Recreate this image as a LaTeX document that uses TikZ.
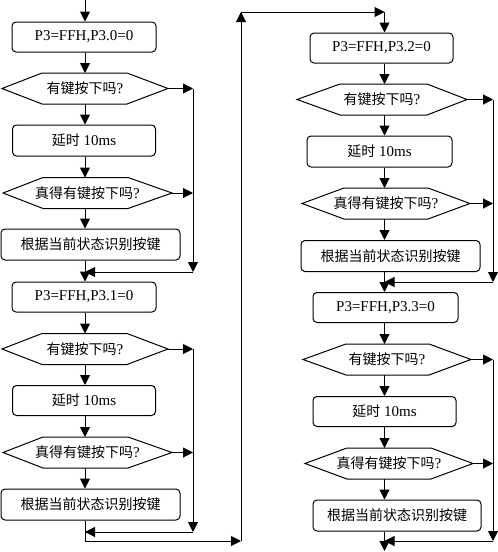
\documentclass[tikz,border=0pt]{standalone}
\usepackage{fontspec}
\setmainfont{Liberation Serif}
\newfontfamily\cjk[Scale=1.0]{Noto Sans CJK SC}
\usetikzlibrary{arrows.meta}
\newcommand\hexa[7]{% name, cx, cy, halfw, insetL, insetR, text
  \draw[line] (#2-#4,#3) -- (#2-#4+#5,#3-15.5) -- (#2+#4-#6,#3-15.5) -- (#2+#4,#3)
     -- (#2+#4-#6,#3+15.5) -- (#2-#4+#5,#3+15.5) -- cycle;
  \node[txt] (#1) at (#2,#3) {#7};
  \coordinate (#1-n) at (#2,#3-15.5);
  \coordinate (#1-s) at (#2,#3+15.5);
  \coordinate (#1-e) at (#2+#4,#3);
}
\begin{document}
\begin{tikzpicture}[x=1pt,y=-1pt,
  line/.style={line width=1pt},
  arr/.style={line width=1pt, -{Triangle[length=10pt,width=10pt]}},
  box/.style={draw, line width=1pt, rounded corners=4pt, minimum height=30pt,
              inner sep=0pt, font=\fontsize{15}{17}\selectfont},
  txt/.style={inner sep=0pt, font=\fontsize{15}{17}\selectfont}]
\useasboundingbox (0,0) rectangle (498,552);

% column and loop guides
\coordinate (colL) at (85,0);
\coordinate (colR) at (384.5,0);
\coordinate (rl) at (193,0);
\coordinate (rr) at (493,0);
\coordinate (start) at (85,0);

% ---------- left column ----------
\node[box, minimum width=144pt] (b1) at (84,37) {P3=FFH,P3.0=0};
\hexa{h1}{85}{88.5}{83}{40}{41}{{\cjk\fontsize{14}{16}\selectfont 有键按下吗}?}
\node[box, minimum width=143pt, minimum height=31pt] (b2) at (84,140.5) {{\cjk\fontsize{14}{16}\selectfont 延时} 10ms};
\hexa{h2}{87.5}{193}{84.5}{40}{44}{{\cjk\fontsize{14}{16}\selectfont 真得有键按下吗}?}
\node[box, minimum width=179pt, minimum height=31pt] (b3) at (90.5,244.5) {\cjk\fontsize{14}{16}\selectfont 根据当前状态识别按键};
\coordinate (m1) at (85,272);
\node[box, minimum width=144pt] (b4) at (84,297) {P3=FFH,P3.1=0};
\hexa{h3}{85}{349}{83}{40}{41}{{\cjk\fontsize{14}{16}\selectfont 有键按下吗}?}
\node[box, minimum width=143pt] (b5) at (84,400.5) {{\cjk\fontsize{14}{16}\selectfont 延时} 10ms};
\hexa{h4}{87.5}{452.5}{84.5}{40}{44}{{\cjk\fontsize{14}{16}\selectfont 真得有键按下吗}?}
\node[box, minimum width=179pt, minimum height=31pt] (b6) at (90.5,504.5) {\cjk\fontsize{14}{16}\selectfont 根据当前状态识别按键};
\coordinate (m2) at (85,532);
\coordinate (c1) at (85,541);
\coordinate (c2) at (241,541);
\coordinate (c3) at (241,12);
\coordinate (c4) at (384.5,12);

% ---------- right column ----------
\node[box, minimum width=143pt] (b7) at (381.5,48) {P3=FFH,P3.2=0};
\hexa{h5}{382}{99.5}{85}{43}{40}{{\cjk\fontsize{14}{16}\selectfont 有键按下吗}?}
\node[box, minimum width=145pt, minimum height=31pt] (b8) at (379.5,151.5) {{\cjk\fontsize{14}{16}\selectfont 延时} 10ms};
\hexa{h6}{386}{203.5}{84}{42}{42}{{\cjk\fontsize{14}{16}\selectfont 真得有键按下吗}?}
\node[box, minimum width=179pt, minimum height=31pt] (b9) at (390.5,256) {\cjk\fontsize{14}{16}\selectfont 根据当前状态识别按键};
\coordinate (m3) at (384.5,282);
\node[box, minimum width=145pt] (b10) at (385.5,307.5) {P3=FFH,P3.3=0};
\hexa{h7}{387}{359.5}{84}{43}{42}{{\cjk\fontsize{14}{16}\selectfont 有键按下吗}?}
\node[box, minimum width=143pt] (b11) at (384.5,411.5) {{\cjk\fontsize{14}{16}\selectfont 延时} 10ms};
\hexa{h8}{389}{463.5}{84}{42}{42}{{\cjk\fontsize{14}{16}\selectfont 真得有键按下吗}?}
\node[box, minimum width=168pt, minimum height=31pt] (b12) at (397,515.5) {\cjk\fontsize{14}{16}\selectfont 根据当前状态识别按键};
\coordinate (m4) at (384.5,541);
\coordinate (end) at (384.5,551);

% ---------- connectors: left ----------
\draw[arr] (start) -- (b1.north -| colL);
\draw[arr] (b1.south -| colL) -- (h1-n -| colL);
\draw[arr] (h1-s -| colL) -- (b2.north -| colL);
\draw[arr] (b2.south -| colL) -- (h2-n -| colL);
\draw[arr] (h2-s -| colL) -- (b3.north -| colL);
\draw[arr] (b3.south -| colL) -- (b4.north -| colL);
\draw[arr] (h1-e) -- (h1-e -| rl);
\draw[arr] (h2-e) -- (h2-e -| rl);
\draw[arr] (h1-e -| rl) -- (m1 -| rl);
\draw[arr] (m1 -| rl) -- (m1);

\draw[arr] (b4.south -| colL) -- (h3-n -| colL);
\draw[arr] (h3-s -| colL) -- (b5.north -| colL);
\draw[arr] (b5.south -| colL) -- (h4-n -| colL);
\draw[arr] (h4-s -| colL) -- (b6.north -| colL);
\draw[arr] (h3-e) -- (h3-e -| rl);
\draw[arr] (h4-e) -- (h4-e -| rl);
\draw[arr] (h3-e -| rl) -- (m2 -| rl);
\draw[arr] (m2 -| rl) -- (m2);

\draw[line] (b6.south -| colL) -- (c1);
\draw[arr] (c1) -- (c2);
\draw[arr] (c2) -- (c3);
\draw[arr] (c3) -- (c4);
\draw[arr] (c4) -- (b7.north -| colR);

% ---------- connectors: right ----------
\draw[arr] (b7.south -| colR) -- (h5-n -| colR);
\draw[arr] (h5-s -| colR) -- (b8.north -| colR);
\draw[arr] (b8.south -| colR) -- (h6-n -| colR);
\draw[arr] (h6-s -| colR) -- (b9.north -| colR);
\draw[arr] (b9.south -| colR) -- (b10.north -| colR);
\draw[arr] (h5-e) -- (h5-e -| rr);
\draw[arr] (h6-e) -- (h6-e -| rr);
\draw[arr] (h5-e -| rr) -- (m3 -| rr);
\draw[arr] (m3 -| rr) -- (m3);

\draw[arr] (b10.south -| colR) -- (h7-n -| colR);
\draw[arr] (h7-s -| colR) -- (b11.north -| colR);
\draw[arr] (b11.south -| colR) -- (h8-n -| colR);
\draw[arr] (h8-s -| colR) -- (b12.north -| colR);
\draw[arr] (b12.south -| colR) -- (end);
\draw[arr] (h7-e) -- (h7-e -| rr);
\draw[arr] (h8-e) -- (h8-e -| rr);
\draw[arr] (h7-e -| rr) -- (m4 -| rr);
\draw[arr] (m4 -| rr) -- (m4);
\end{tikzpicture}
\end{document}
